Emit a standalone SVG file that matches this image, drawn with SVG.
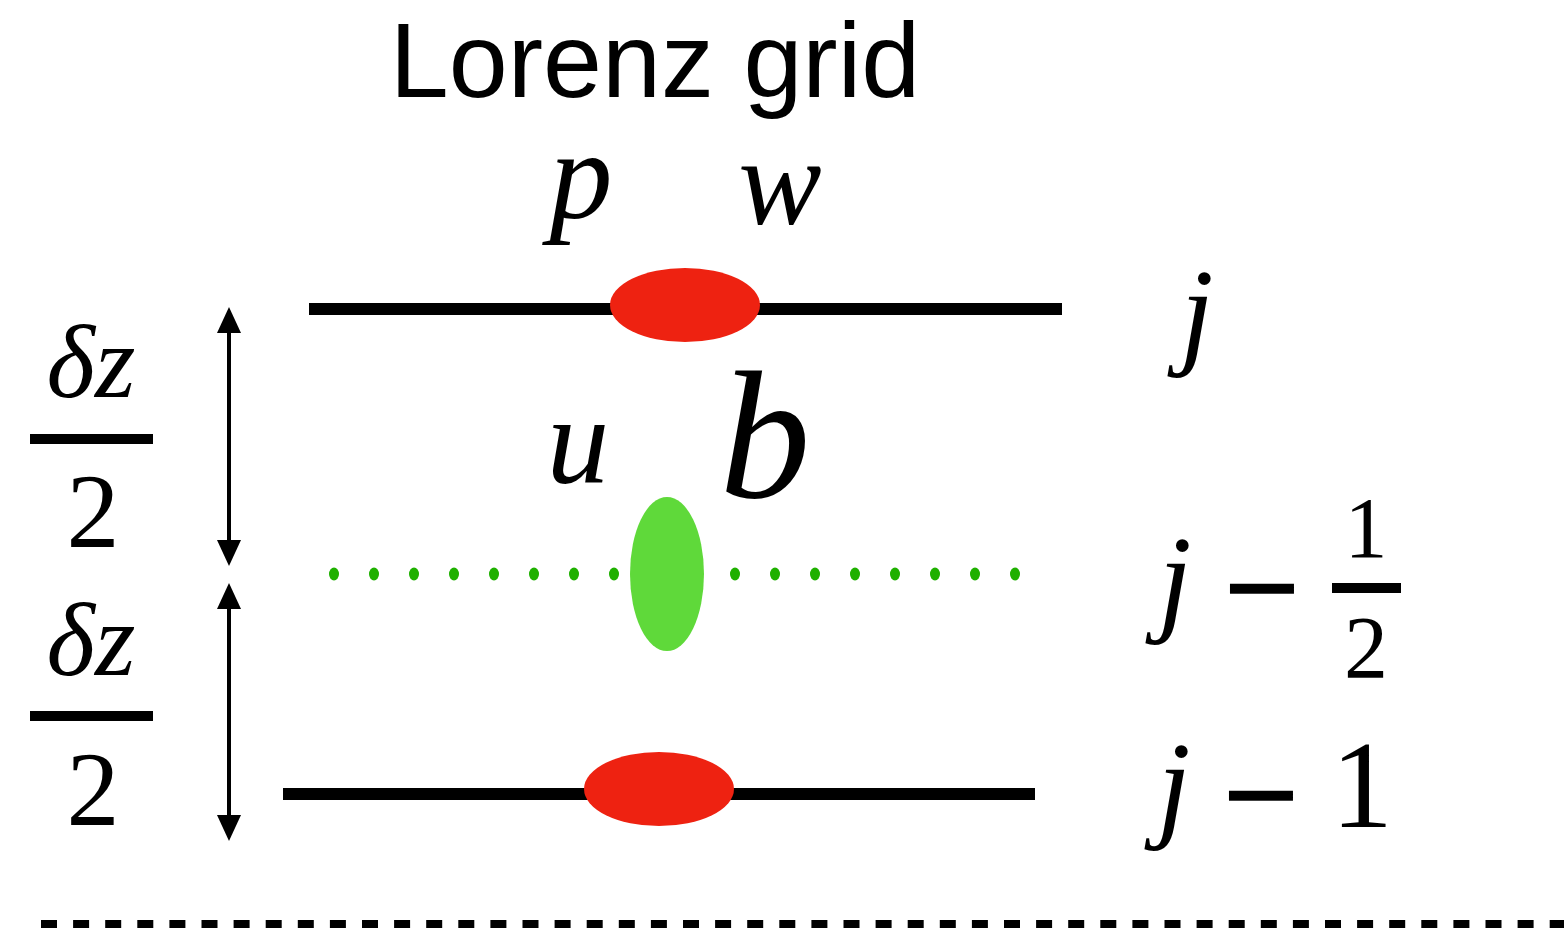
<svg xmlns="http://www.w3.org/2000/svg" width="1564" height="934" viewBox="0 0 1564 934">
<defs>
<style>
.m{font-family:"Liberation Serif","Times New Roman",serif;font-style:italic;fill:#000;text-anchor:middle}
.n{font-family:"Liberation Serif","Times New Roman",serif;fill:#000;text-anchor:middle}
.mi{font-family:"Liberation Serif","Times New Roman",serif;fill:#000;stroke:#000;stroke-width:3.5;text-anchor:middle}
.ttl{font-family:"Liberation Sans",Arial,sans-serif;fill:#000;text-anchor:middle}
.grid{stroke:#000;stroke-width:12;fill:none}
.bar{stroke:#000;stroke-width:10;fill:none}
.red{fill:#ee2211}
.dot{fill:#1fb000}
.arr{stroke:#000;stroke-width:4;fill:none;marker-start:url(#ah);marker-end:url(#ah)}
</style>
<marker id="ah" markerUnits="userSpaceOnUse" viewBox="0 0 26 24" markerWidth="26" markerHeight="24" refX="6" refY="12" orient="auto-start-reverse">
<path d="M0,0 L26,12 L0,24 Z" fill="#000"/>
</marker>
</defs>
<rect width="1564" height="934" fill="#fff"/>
<g id="title"><text class="ttl" x="655" y="97" font-size="106">Lorenz grid</text></g>

<g id="level-j">
<line class="grid" x1="309" y1="309" x2="1062" y2="309"/>
<ellipse class="red" cx="685" cy="305" rx="75" ry="37"/>
</g>
<g id="level-j-half">
<ellipse class="dot" cx="334" cy="574" rx="5" ry="6.5"/>
<ellipse class="dot" cx="374" cy="574" rx="5" ry="6.5"/>
<ellipse class="dot" cx="414" cy="574" rx="5" ry="6.5"/>
<ellipse class="dot" cx="454" cy="574" rx="5" ry="6.5"/>
<ellipse class="dot" cx="494" cy="574" rx="5" ry="6.5"/>
<ellipse class="dot" cx="534" cy="574" rx="5" ry="6.5"/>
<ellipse class="dot" cx="574" cy="574" rx="5" ry="6.5"/>
<ellipse class="dot" cx="614" cy="574" rx="5" ry="6.5"/>
<ellipse class="dot" cx="735" cy="574" rx="5" ry="6.5"/>
<ellipse class="dot" cx="775" cy="574" rx="5" ry="6.5"/>
<ellipse class="dot" cx="815" cy="574" rx="5" ry="6.5"/>
<ellipse class="dot" cx="855" cy="574" rx="5" ry="6.5"/>
<ellipse class="dot" cx="895" cy="574" rx="5" ry="6.5"/>
<ellipse class="dot" cx="935" cy="574" rx="5" ry="6.5"/>
<ellipse class="dot" cx="975" cy="574" rx="5" ry="6.5"/>
<ellipse class="dot" cx="1015" cy="574" rx="5" ry="6.5"/>
<ellipse cx="667" cy="574" rx="37" ry="77" fill="#5fd93a"/>
</g>
<g id="level-j-1">
<line class="grid" x1="283" y1="794" x2="1035" y2="794"/>
<ellipse class="red" cx="659" cy="789" rx="75" ry="37"/>
</g>

<g id="var-labels">
<text class="m" x="581" y="218" font-size="126">p</text>
<text class="m" x="780" y="224" font-size="125">w</text>
<text class="m" x="578" y="483" font-size="125">u</text>
<text class="m" x="765" y="497" font-size="182">b</text>
</g>

<g id="connectors">
<line class="arr" x1="229" y1="327" x2="229" y2="546"/>
<line class="arr" x1="229" y1="603" x2="229" y2="821"/>
</g>

<g id="dz-top">
<text class="m" x="91" y="397" font-size="104">δz</text>
<line class="bar" x1="30" y1="439" x2="153" y2="439"/>
<text class="n" x="93" y="547" font-size="106">2</text>
</g>
<g id="dz-bottom">
<text class="m" x="91" y="675" font-size="104">δz</text>
<line class="bar" x1="30" y1="716" x2="153" y2="716"/>
<text class="n" x="93" y="825" font-size="106">2</text>
</g>

<g id="label-j"><text class="m" x="1197" y="352" font-size="120">j</text></g>
<g id="label-j-half">
<text class="m" x="1175" y="619" font-size="120">j</text>
<text class="mi" x="1262" y="632" font-size="130">−</text>
<line class="bar" x1="1332" y1="588" x2="1401" y2="588" stroke-width="9"/>
<text class="n" x="1366" y="557" font-size="86">1</text>
<text class="n" x="1366" y="677" font-size="88">2</text>
</g>
<g id="label-j-1">
<text class="m" x="1174" y="825" font-size="120">j</text>
<text class="mi" x="1261" y="839" font-size="130">−</text>
<text class="n" x="1362" y="827" font-size="124">1</text>
</g>

<g id="baseline-dashed">
<line x1="41" y1="924" x2="1564" y2="924" stroke="#000" stroke-width="8" stroke-dasharray="16 16.1"/>
</g>
</svg>
